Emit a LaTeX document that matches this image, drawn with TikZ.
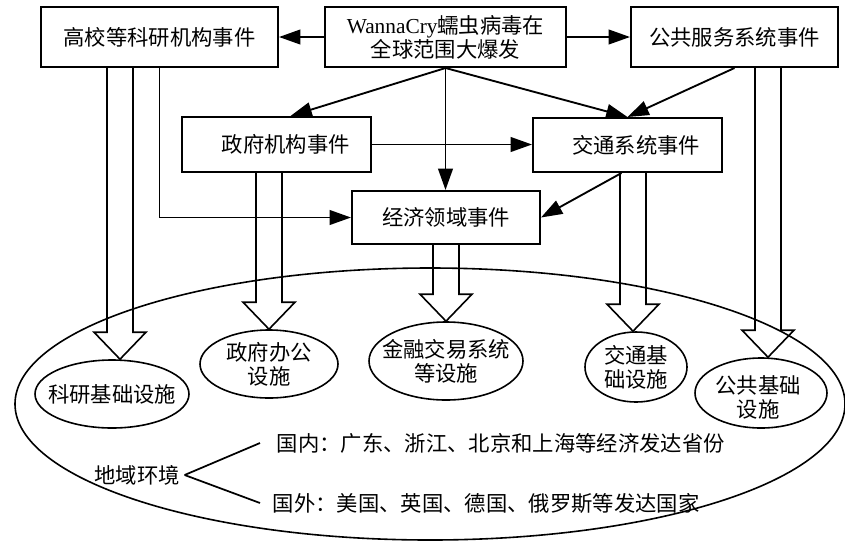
\documentclass[tikz,border=0pt]{standalone}
\usepackage{fontspec}
\setmainfont{Noto Sans CJK SC}
\newfontfamily\latfont{Liberation Serif}
\usetikzlibrary{arrows.meta,shapes.geometric,calc}
\tikzset{
 evbox/.style={draw, line width=1.5pt, inner sep=0pt, align=center, font=\fontsize{16pt}{18pt}\selectfont},
 fac/.style={draw, ellipse, line width=1.2pt, inner sep=0pt},
 txt/.style={font=\fontsize{16pt}{18pt}\selectfont, inner sep=2pt, align=center},
 conn/.style={line width=1.4pt, -{Triangle[length=16pt,width=11pt]}},
 hollow/.style={line width=1.2pt, line join=miter},
 plain/.style={line width=1.3pt}
}
\newcommand\hollowarr[4]{%
 \coordinate (#1x) at (#2,0);
 \coordinate (#1s) at (#1x |- #3.south);
 \coordinate (#1t) at (#1x |- #4.north);
 \draw[hollow] ($(#1s)+(-13,0)$) -- ($(#1t)+(-13,-27)$) -- ($(#1t)+(-26,-27)$) -- (#1t) -- ($(#1t)+(26,-27)$) -- ($(#1t)+(13,-27)$) -- ($(#1s)+(13,0)$);}
\begin{document}
\begin{tikzpicture}[x=0.75pt,y=-0.75pt]
\useasboundingbox (0,0) rectangle (845,540);
% event boxes
\node[evbox, minimum width=177.75pt, minimum height=45pt] (gx) at (159.5,37) {高校等科研机构事件};
\node[evbox, minimum width=180.75pt, minimum height=45pt] (wc) at (445.5,37) {{\latfont WannaCry}蠕虫病毒在\\全球范围大爆发};
\node[evbox, minimum width=155.25pt, minimum height=45pt] (gg) at (734.5,37) {公共服务系统事件};
\node[evbox, minimum width=141.75pt, minimum height=41.25pt] (zf) at (276.5,144.5) {\hspace*{14pt}政府机构事件};
\node[evbox, minimum width=141.75pt, minimum height=40.5pt] (jt) at (627.5,145) {\hspace*{13pt}交通系统事件};
\node[evbox, minimum width=141pt, minimum height=39.75pt] (jj) at (446,217.5) {经济领域事件};
% facility ellipses
\node[fac, minimum width=115.5pt, minimum height=51pt] (ky) at (112,394) {};
\node[txt] at (ky) {科研基础设施};
\node[fac, minimum width=103.5pt, minimum height=51pt] (zb) at (269,364) {};
\node[txt] at (zb) {政府办公\\设施};
\node[fac, minimum width=115.5pt, minimum height=58.5pt] (jr) at (446,361) {};
\node[txt] at (jr) {金融交易系统\\等设施};
\node[fac, minimum width=76.5pt, minimum height=52.5pt] (jtj) at (636,367) {};
\node[txt] at (jtj) {交通基\\础设施};
\node[fac, minimum width=99pt, minimum height=52.5pt] (gj) at (761,393) {};
\node[txt] at ($(gj)+(-3,4)$) {公共基础\\设施};
% environment ellipse
\node[draw, ellipse, line width=1.2pt, inner sep=0pt, minimum width=622.5pt, minimum height=204pt] (env) at (430,404) {};
% connectors
\draw[conn] (wc.west) -- (gx.east);
\draw[conn] (wc.east) -- (gg.west);
\draw[conn] (wc.south) -- ($(zf.north)+(14,0)$);
\draw[conn] (wc.south) -- (jt.north);
\draw[conn] (wc.south) -- (wc.south |- jj.north);
\draw[conn] (gg.south) -- (jt.north);
\draw[conn] (zf.east) -- (zf.east -| jt.west);
\draw[conn] ($(jt.south)+(-6,0)$) -- (jj.east);
\draw[conn] (gx.south) |- (jj.west);
% hollow block arrows
\hollowarr{a}{120}{gx}{ky}
\hollowarr{b}{269}{zf}{zb}
\hollowarr{c}{446}{jj}{jr}
\hollowarr{d}{633}{jt}{jtj}
\hollowarr{e}{768}{gg}{gj}
% region
\node[txt] (dy) at (137,475) {地域环境};
\node[txt, anchor=west] (gn) at (274,443) {国内：广东、浙江、北京和上海等经济发达省份};
\node[txt, anchor=west] (gw) at (270,503) {国外：美国、英国、德国、俄罗斯等发达国家};
\draw[plain] ($(dy.east)+(2,0)$) -- ($(gn.west)+(-14,0)$);
\draw[plain] ($(dy.east)+(2,0)$) -- ($(gw.west)+(-10,0)$);
\end{tikzpicture}
\end{document}
